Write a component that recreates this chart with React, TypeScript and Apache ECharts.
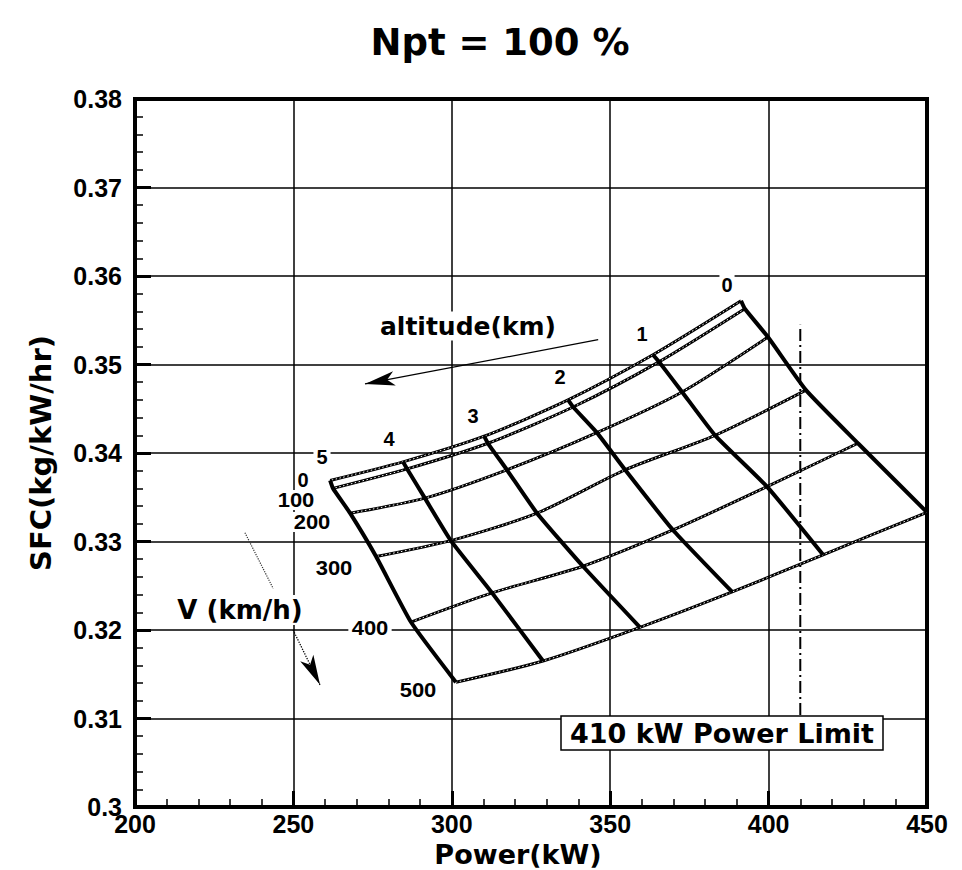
import React, { useEffect, useRef } from "react";
import * as echarts from "echarts";

// ---------- data ----------
const altitudes = [0, 1, 2, 3, 4, 5]; // km
const speeds = [0, 100, 200, 300, 400, 500]; // km/h

// Power (kW) for each speed, one array per altitude
const powerAlt0 = [391.3, 392.5, 399.8, 411.8, 428.2, 450.0];
const powerAlt1 = [363.5, 365.4, 372.7, 383.1, 399.5, 417.2];
const powerAlt2 = [336.7, 338.3, 345.8, 354.7, 369.8, 388.5];
const powerAlt3 = [310.2, 311.4, 317.4, 326.9, 341.4, 359.4];
const powerAlt4 = [284.6, 285.9, 291.5, 299.7, 312.7, 328.8];
const powerAlt5 = [261.6, 262.5, 267.9, 276.1, 287.1, 301.3];

// SFC (kg/kW/hr) for each speed, one array per altitude
const sfcAlt0 = [0.3572, 0.3563, 0.3531, 0.3471, 0.3411, 0.3333];
const sfcAlt1 = [0.3511, 0.3503, 0.3469, 0.342, 0.3362, 0.3285];
const sfcAlt2 = [0.346, 0.3452, 0.3423, 0.3381, 0.3313, 0.3243];
const sfcAlt3 = [0.3419, 0.3411, 0.3381, 0.3332, 0.3272, 0.3203];
const sfcAlt4 = [0.339, 0.3382, 0.3349, 0.3301, 0.3242, 0.3165];
const sfcAlt5 = [0.3369, 0.336, 0.3332, 0.3283, 0.3209, 0.3141];

const powerByAlt = [powerAlt0, powerAlt1, powerAlt2, powerAlt3, powerAlt4, powerAlt5];
const sfcByAlt = [sfcAlt0, sfcAlt1, sfcAlt2, sfcAlt3, sfcAlt4, sfcAlt5];

const xTicks = [200, 250, 300, 350, 400, 450];
const yTicks = [0.3, 0.31, 0.32, 0.33, 0.34, 0.35, 0.36, 0.37, 0.38];

const powerLimit = 410;
const powerLimitSfcRange = [0.3104, 0.3545];

// annotation arrows (data coordinates)
const altitudeArrow = [[346.2, 0.3528], [272.6, 0.3478]];
const speedArrowTail = [[234.7, 0.331], [243.6, 0.3247]];
const speedArrowHead = [[249.9, 0.32], [258.4, 0.3138]];

const FT = "'Liberation Sans', Arial, sans-serif";
const FW = "'DejaVu Sans', sans-serif";

function txt(text: string, x: number, y: number, size: number, family: string, extra: any = {}) {
  return {
    type: "text",
    x,
    y,
    z: 100,
    scaleX: extra.scaleX ?? 1,
    style: {
      text,
      x: 0,
      y: 0,
      fill: "#000",
      font: `bold ${size}px ${family}`,
      align: "center",
      verticalAlign: "middle",
      textAlign: "center",
      textVerticalAlign: "middle",
      backgroundColor: extra.bg ?? "transparent",
      padding: extra.padding ?? 0,
    },
  };
}

export default function App() {
  const ref = useRef<HTMLDivElement>(null);

  useEffect(() => {
    if (!ref.current) return;
    const chart = echarts.init(ref.current, undefined, { renderer: "svg" });

    const speedBlack = speeds.map((v, j) => ({
      name: `V ${v}`,
      type: "line",
      data: altitudes.map((_, i) => [powerByAlt[i][j], sfcByAlt[i][j]]),
      symbol: "none",
      smooth: 0.25,
      silent: true,
      lineStyle: { color: "#000", width: 3 },
      z: 3,
    }));
    const speedWhite = speeds.map((v, j) => ({
      name: `V ${v} inner`,
      type: "line",
      data: altitudes.map((_, i) => [powerByAlt[i][j], sfcByAlt[i][j]]),
      symbol: "none",
      smooth: 0.25,
      silent: true,
      lineStyle: { color: "#fff", width: 1, type: [1.5, 2.5] },
      z: 4,
    }));
    const altSeries = altitudes.map((a, i) => ({
      name: `alt ${a}`,
      type: "line",
      data: speeds.map((_, j) => [powerByAlt[i][j], sfcByAlt[i][j]]),
      symbol: "none",
      smooth: 0.15,
      silent: true,
      lineStyle: { color: "#000", width: 4 },
      z: 5,
    }));

    const limitSeries = {
      name: "limit",
      type: "line",
      data: powerLimitSfcRange.map((s) => [powerLimit, s]),
      symbol: "none",
      silent: true,
      lineStyle: { color: "#000", width: 2, type: [12, 4, 2, 4] },
      z: 2,
      markLine: {
        silent: true,
        animation: false,
        label: { show: false },
        emphasis: { disabled: true },
        symbol: ["none", "arrow"],
        symbolSize: [11, 30],
        data: [
          [
            { coord: altitudeArrow[0], lineStyle: { color: "#000", width: 1.3, type: "solid" } },
            { coord: altitudeArrow[1] },
          ],
          [
            { coord: speedArrowTail[0], symbol: "none", lineStyle: { color: "#333", width: 1.2, type: "dotted" } },
            { coord: speedArrowTail[1], symbol: "none" },
          ],
          [
            { coord: speedArrowHead[0], lineStyle: { color: "#000", width: 1.3, type: "dotted" } },
            { coord: speedArrowHead[1] },
          ],
        ],
      },
    };

    const tickFont = { color: "#000", fontFamily: FT, fontWeight: "bold", fontSize: 25 };

    const option: any = {
      animation: false,
      backgroundColor: "#fff",
      grid: {
        left: 135,
        top: 99,
        width: 792,
        height: 708,
        show: true,
        containLabel: false,
        outerBoundsMode: "none",
        borderColor: "#000",
        borderWidth: 4,
        backgroundColor: "transparent",
      },
      xAxis: {
        type: "value",
        min: xTicks[0],
        max: xTicks[xTicks.length - 1],
        interval: xTicks[1] - xTicks[0],
        name: "Power(kW)",
        nameLocation: "middle",
        nameGap: 34,
        nameMoveOverlap: false,
        nameTextStyle: { color: "#000", fontFamily: FW, fontWeight: "bold", fontSize: 27, padding: [0, 26, 0, 0] },
        axisLine: { show: true, onZero: false, lineStyle: { color: "#000", width: 4 } },
        axisTick: { show: true, inside: true, length: 16, lineStyle: { color: "#000", width: 3 } },
        minorTick: { show: true, splitNumber: 5, length: 8, lineStyle: { color: "#000", width: 1.5 } },
        splitLine: { show: true, lineStyle: { color: "#000", width: 1.5 } },
        axisLabel: { ...tickFont, margin: 4 },
      },
      yAxis: {
        type: "value",
        min: yTicks[0],
        max: yTicks[yTicks.length - 1],
        interval: 0.01,
        name: "SFC(kg/kW/hr)",
        nameLocation: "middle",
        nameGap: 80,
        nameRotate: 90,
        nameMoveOverlap: false,
        nameTextStyle: { color: "#000", fontFamily: FW, fontWeight: "bold", fontSize: 29 },
        axisLine: { show: true, onZero: false, lineStyle: { color: "#000", width: 4 } },
        axisTick: { show: true, inside: true, length: 16, lineStyle: { color: "#000", width: 3 } },
        minorTick: { show: true, splitNumber: 5, length: 8, lineStyle: { color: "#000", width: 1.5 } },
        splitLine: { show: true, lineStyle: { color: "#000", width: 1.5 } },
        axisLabel: {
          ...tickFont,
          margin: 13,
          formatter: (v: number) => (Math.abs(v - 0.3) < 1e-9 ? "0.3" : v.toFixed(2)),
        },
      },
      series: [limitSeries, ...speedBlack, ...speedWhite, ...altSeries],
      graphic: [
        txt("Npt = 100 %", 500, 42, 37, FW),
        // altitude labels
        txt("0", 727, 285, 20, FT, { bg: "#fff", padding: [0, 2] }),
        txt("1", 642, 334, 20, FT, { bg: "#fff", padding: [0, 2] }),
        txt("2", 560, 377, 20, FT, { bg: "#fff", padding: [0, 2] }),
        txt("3", 473, 416, 20, FT, { bg: "#fff", padding: [0, 2] }),
        txt("4", 389, 439, 20, FT, { bg: "#fff", padding: [0, 2] }),
        txt("5", 322, 457, 20, FT, { bg: "#fff", padding: [0, 3] }),
        // speed labels
        txt("0", 303, 480, 20, FT, { bg: "#fff", padding: [0, 2] }),
        txt("100", 296, 500, 20, FT, { bg: "#fff", padding: [0, 2], scaleX: 1.1 }),
        txt("200", 312, 522, 20, FT, { bg: "#fff", padding: [0, 2], scaleX: 1.1 }),
        txt("300", 334, 568, 20, FT, { bg: "#fff", padding: [0, 2], scaleX: 1.1 }),
        txt("400", 370, 628, 20, FT, { bg: "#fff", padding: [0, 3], scaleX: 1.1 }),
        txt("500", 418, 690, 20, FT, { bg: "#fff", padding: [0, 2], scaleX: 1.1 }),
        // titles of the annotations
        txt("altitude(km)", 468, 326, 25, FW, { bg: "#fff", padding: [2, 2] }),
        txt("V (km/h)", 240, 610, 26, FW, { bg: "#fff", padding: [2, 2] }),
        {
          type: "rect",
          z: 99,
          shape: { x: 561, y: 716, width: 322, height: 34 },
          style: { fill: "#fff", stroke: "#000", lineWidth: 1.5 },
        },
        txt("410 kW Power Limit", 722, 733, 27, FW),
      ],
    };

    chart.setOption(option);
    return () => chart.dispose();
  }, []);

  return (
    <div
      ref={ref}
      style={{ position: "absolute", left: 0, top: 0, width: 962, height: 870, background: "#fff" }}
    />
  );
}
